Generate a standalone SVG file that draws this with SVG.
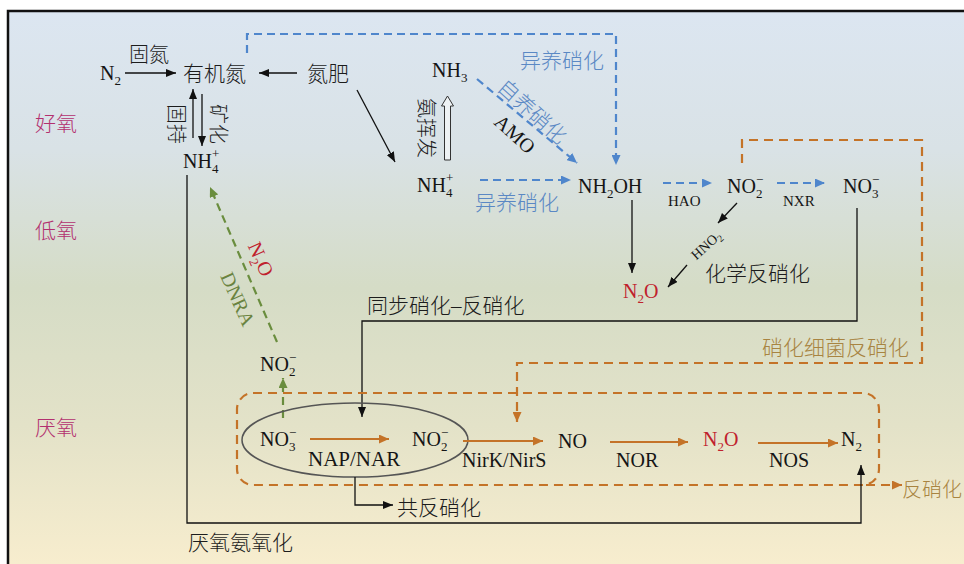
<svg xmlns="http://www.w3.org/2000/svg" width="964" height="564" viewBox="0 0 964 564">
<defs>
<linearGradient id="bg" x1="0" y1="11" x2="0" y2="564" gradientUnits="userSpaceOnUse">
<stop offset="0" stop-color="#dce6f1"/>
<stop offset="0.25" stop-color="#d9e2e6"/>
<stop offset="0.5" stop-color="#d5dcc6"/>
<stop offset="0.75" stop-color="#e3e2c8"/>
<stop offset="1" stop-color="#f7edce"/>
</linearGradient>
<marker id="mk" markerUnits="userSpaceOnUse" markerWidth="10" markerHeight="8" refX="10" refY="4" orient="auto"><path d="M0,0 L10,4 L0,8 z" fill="#111"/></marker>
<marker id="mb" markerUnits="userSpaceOnUse" markerWidth="10" markerHeight="9" refX="10" refY="4.5" orient="auto"><path d="M0,0 L10,4.5 L0,9 z" fill="#4f86cc"/></marker>
<marker id="mo" markerUnits="userSpaceOnUse" markerWidth="10" markerHeight="9" refX="10" refY="4.5" orient="auto"><path d="M0,0 L10,4.5 L0,9 z" fill="#c47328"/></marker>
<marker id="mg" markerUnits="userSpaceOnUse" markerWidth="10" markerHeight="9" refX="10" refY="4.5" orient="auto"><path d="M0,0 L10,4.5 L0,9 z" fill="#6a8d3e"/></marker>
<style>
.t{font-family:"Liberation Serif","Noto Sans CJK SC",serif;font-size:20px;fill:#151515}
.cn{font-family:"Liberation Serif","Noto Sans CJK SC",serif;font-size:21px;font-weight:300;fill:#1c1c1c}
.s{font-size:13px}
.sm{font-size:15px}
.zone{fill:#b3306f}
.blue{fill:#5a88c4}
.brown{fill:#a88441}
.red{fill:#c0212d}
.green{fill:#6a8340}
.k{stroke:#111;stroke-width:1.3;fill:none}
.bd{stroke:#4f86cc;stroke-width:2.2;fill:none;stroke-dasharray:8 5}
.od{stroke:#c47328;stroke-width:2.2;fill:none;stroke-dasharray:9 6}
.os{stroke:#c47328;stroke-width:2.2;fill:none}
.gd{stroke:#6a8d3e;stroke-width:2.2;fill:none;stroke-dasharray:8 5}
</style>
</defs>
<rect x="8" y="11" width="956" height="553" fill="url(#bg)"/>
<path d="M8,564 V11 H964" fill="none" stroke="#111" stroke-width="2.5"/>

<g id="zones">
<text class="cn zone" x="35" y="131">好氧</text>
<text class="cn zone" x="35" y="238">低氧</text>
<text class="cn zone" x="35" y="435">厌氧</text>
</g>

<g id="connectors">
<line class="k" x1="125" y1="73" x2="176" y2="73" marker-end="url(#mk)"/>
<line class="k" x1="297" y1="73" x2="259" y2="73" marker-end="url(#mk)"/>
<line class="k" x1="193" y1="138" x2="193" y2="89" marker-end="url(#mk)"/>
<line class="k" x1="202" y1="94" x2="202" y2="146" marker-end="url(#mk)"/>
<line class="k" x1="357" y1="90" x2="395" y2="162" marker-end="url(#mk)"/>
<path d="M444.5,160 V106 H441.5 L447.5,96 L453.5,106 H450.5 V160 Z" fill="#eef2f4" stroke="#333" stroke-width="1"/>
<line class="bd" x1="477" y1="79" x2="577" y2="163" marker-end="url(#mb)"/>
<path class="bd" d="M247,53 V34 H616 V165" marker-end="url(#mb)"/>
<line class="bd" x1="480" y1="180" x2="571" y2="180" marker-end="url(#mb)"/>
<line class="bd" x1="663" y1="183" x2="712" y2="183" marker-end="url(#mb)"/>
<line class="bd" x1="777" y1="183" x2="825" y2="183" marker-end="url(#mb)"/>
<line class="k" x1="632" y1="200" x2="632" y2="273" marker-end="url(#mk)"/>
<line class="k" x1="737" y1="203" x2="718" y2="223" marker-end="url(#mk)"/>
<line class="k" x1="687" y1="265" x2="668" y2="287" marker-end="url(#mk)"/>
<path class="k" d="M857,208 V321 H362 V417" marker-end="url(#mk)"/>
<path class="od" d="M742,163 V140 H922 V363 H517 V422" marker-end="url(#mo)"/>
<line class="gd" x1="277" y1="342" x2="210" y2="187" marker-end="url(#mg)"/>
<line class="gd" x1="283" y1="418" x2="283" y2="378" marker-end="url(#mg)"/>
<rect class="od" x="237" y="393" width="642" height="92" rx="16"/>
<line class="od" x1="866" y1="485" x2="902" y2="485" marker-end="url(#mo)"/>
<ellipse cx="355" cy="440" rx="113" ry="37" fill="none" stroke="#555" stroke-width="1.5"/>
<line class="os" x1="310" y1="439" x2="389" y2="439" marker-end="url(#mo)"/>
<line class="os" x1="463" y1="441" x2="543" y2="441" marker-end="url(#mo)"/>
<line class="os" x1="610" y1="442" x2="688" y2="442" marker-end="url(#mo)"/>
<line class="os" x1="758" y1="443" x2="838" y2="443" marker-end="url(#mo)"/>
<path class="k" d="M187,175 V523 H861 V465" marker-end="url(#mk)"/>
<path class="k" d="M355,477 V505 H393" marker-end="url(#mk)"/>
</g>

<g id="n2_top"><text class="t" x="100" y="80">N<tspan class="s" dy="5">2</tspan></text></g>
<g id="lbl_gudan"><text class="cn" x="129" y="62" style="font-size:20px">固氮</text></g>
<g id="organic_n"><text class="cn" x="183" y="81">有机氮</text></g>
<g id="fertilizer"><text class="cn" x="307" y="81">氮肥</text></g>
<g id="lbl_guchi"><text class="cn" style="font-size:20px" transform="translate(176,124) rotate(90)" text-anchor="middle" dy="7">固持</text></g>
<g id="lbl_kuanghua"><text class="cn" style="font-size:20px" transform="translate(218,124) rotate(90)" text-anchor="middle" dy="7">矿化</text></g>
<g id="nh4_top"><text class="t" x="183" y="168">NH<tspan class="s" dy="5">4</tspan><tspan class="s" dx="-6.5" dy="-15">+</tspan></text></g>
<g id="lbl_hetero1"><text class="cn blue" x="520" y="68">异养硝化</text></g>
<g id="nh3"><text class="t" x="432" y="77">NH<tspan class="s" dy="5">3</tspan></text></g>
<g id="lbl_auto"><text class="cn blue" transform="translate(532,112) rotate(42)" text-anchor="middle" dy="7">自养硝化</text></g>
<g id="lbl_amo"><text class="t" transform="translate(515,134) rotate(42)" text-anchor="middle" dy="7">AMO</text></g>
<g id="lbl_volat"><text class="cn" style="font-size:20px" transform="translate(426,128) rotate(90)" text-anchor="middle" dy="7">氨挥发</text></g>
<g id="nh4_mid"><text class="t" x="417" y="192">NH<tspan class="s" dy="5">4</tspan><tspan class="s" dx="-6.5" dy="-15">+</tspan></text></g>
<g id="lbl_hetero2"><text class="cn blue" x="475" y="210">异养硝化</text></g>
<g id="nh2oh"><text class="t" x="578" y="193">NH<tspan class="s" dy="5">2</tspan><tspan dy="-5">OH</tspan></text></g>
<g id="lbl_hao"><text class="t sm" x="668" y="206">HAO</text></g>
<g id="no2_top"><text class="t" x="727" y="193">NO<tspan class="s" dy="5">2</tspan><tspan class="s" dx="-6.5" dy="-14">−</tspan></text></g>
<g id="lbl_nxr"><text class="t sm" x="783" y="206">NXR</text></g>
<g id="no3_top"><text class="t" x="843" y="193">NO<tspan class="s" dy="5">3</tspan><tspan class="s" dx="-6.5" dy="-14">−</tspan></text></g>
<g id="lbl_hno2"><text class="t" style="font-size:14px" transform="translate(706,245) rotate(-42)" text-anchor="middle" dy="5">HNO<tspan style="font-size:10px" dy="3">2</tspan></text></g>
<g id="n2o_top"><text class="t red" x="623" y="298">N<tspan class="s" dy="5">2</tspan><tspan dy="-5">O</tspan></text></g>
<g id="lbl_chem"><text class="cn" x="705" y="281">化学反硝化</text></g>
<g id="lbl_snd"><text class="cn" x="367" y="313">同步硝化–反硝化</text></g>
<g id="lbl_nd"><text class="cn brown" x="762" y="355">硝化细菌反硝化</text></g>
<g id="lbl_n2o_dnra"><text class="t red" transform="translate(261,259) rotate(66)" text-anchor="middle" dy="7">N<tspan class="s" dy="5">2</tspan><tspan dy="-5">O</tspan></text></g>
<g id="lbl_dnra"><text class="t green" transform="translate(238,299) rotate(66)" text-anchor="middle" dy="7">DNRA</text></g>
<g id="no2_dnra"><text class="t" x="260" y="371">NO<tspan class="s" dy="5">2</tspan><tspan class="s" dx="-6.5" dy="-14">−</tspan></text></g>
<g id="no3_bot"><text class="t" x="260" y="446">NO<tspan class="s" dy="5">3</tspan><tspan class="s" dx="-6.5" dy="-14">−</tspan></text></g>
<g id="lbl_nap"><text class="t" x="308" y="466" style="font-size:21px">NAP/NAR</text></g>
<g id="no2_bot"><text class="t" x="412" y="446">NO<tspan class="s" dy="5">2</tspan><tspan class="s" dx="-6.5" dy="-14">−</tspan></text></g>
<g id="lbl_nir"><text class="t" x="462" y="467">NirK/NirS</text></g>
<g id="no"><text class="t" x="558" y="448">NO</text></g>
<g id="lbl_nor"><text class="t" x="616" y="467">NOR</text></g>
<g id="n2o_bot"><text class="t red" x="703" y="446">N<tspan class="s" dy="5">2</tspan><tspan dy="-5">O</tspan></text></g>
<g id="lbl_nos"><text class="t" x="769" y="467">NOS</text></g>
<g id="n2_bot"><text class="t" x="841" y="446">N<tspan class="s" dy="5">2</tspan></text></g>
<g id="lbl_denit"><text class="cn brown" x="902" y="497" style="font-size:20px">反硝化</text></g>
<g id="lbl_codenit"><text class="cn" x="397" y="515">共反硝化</text></g>
<g id="lbl_anammox"><text class="cn" x="188" y="550">厌氧氨氧化</text></g>
</svg>
